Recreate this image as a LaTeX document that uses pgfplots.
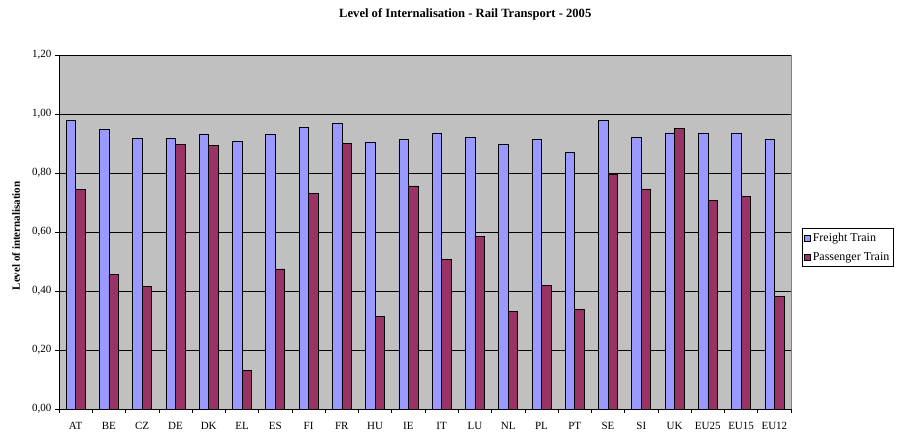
\documentclass[border=0pt]{standalone}
\usepackage{pgfplots}
\pgfplotsset{compat=1.18}
\usepackage{fontspec}
\setmainfont{Liberation Serif}
\definecolor{freight}{HTML}{9999FF}
\definecolor{passenger}{HTML}{993366}
\definecolor{plotbg}{HTML}{C0C0C0}
\pgfplotsset{sqlegend/.style={legend image code/.code={\draw[##1] (0pt,-3pt) rectangle (6pt,3pt);}}}
\begin{document}
\begin{tikzpicture}
\begin{axis}[
  name=ax,
  scale only axis, width=732pt, height=354pt,
  ybar=0pt, bar width=9.5pt,
  xmin=-0.5, xmax=21.5, ymin=0, ymax=1.2,
  xtick={0,...,21},
  xticklabels={AT,BE,CZ,DE,DK,EL,ES,FI,FR,HU,IE,IT,LU,NL,PL,PT,SE,SI,UK,EU25,EU15,EU12},
  minor xtick={-0.5,0.5,...,21.5},
  major x tick style={draw=none},
  minor x tick style={black, line width=0.6pt},
  ytick={0,0.2,...,1.21},
  major y tick style={black, line width=0.6pt},
  tick align=outside,
  major tick length=4pt, minor tick length=4pt,
  axis x line*=bottom, axis y line*=left,
  axis line style={black, line width=0.8pt, -},
  axis background/.style={fill=plotbg, draw=gray, line width=0.6pt},
  ymajorgrids, major grid style={black, line width=0.5pt},
  yticklabel style={/pgf/number format/.cd, fixed, fixed zerofill, precision=2, use comma, assume math mode=true},
  xticklabel style={yshift=-6pt},
  tick label style={font=\fontsize{11}{13}\selectfont},
  every axis y label/.style={at={(axis description cs:-0.0587,0.489)}, rotate=90, anchor=center},
  ylabel={Level of internalisation},
  ylabel style={font=\bfseries\fontsize{11}{13}\selectfont},
  title={Level of Internalisation - Rail Transport - 2005},
  title style={at={(axis description cs:0.555,1.099)}, anchor=center, font=\bfseries\fontsize{12.6}{14}\selectfont},
  legend cell align=left,
  legend style={at={(axis description cs:1.015,0.511)}, anchor=north west, draw=black, fill=white,
    font=\fontsize{12}{14}\selectfont, row sep=5pt, inner xsep=2pt, inner ysep=3pt,
    /tikz/every even column/.append style={column sep=2pt}},
]
\addplot+[fill=freight, draw=black, line width=0.6pt, sqlegend] coordinates {
(0,0.979) (1,0.949) (2,0.918) (3,0.918) (4,0.932) (5,0.907) (6,0.932) (7,0.954) (8,0.968) (9,0.904) (10,0.914)
(11,0.936) (12,0.921) (13,0.896) (14,0.914) (15,0.870) (16,0.979) (17,0.921) (18,0.936) (19,0.936) (20,0.936) (21,0.914)};
\addplot+[fill=passenger, draw=black, line width=0.6pt, sqlegend] coordinates {
(0,0.745) (1,0.456) (2,0.416) (3,0.896) (4,0.893) (5,0.131) (6,0.475) (7,0.731) (8,0.899) (9,0.315) (10,0.756)
(11,0.506) (12,0.585) (13,0.330) (14,0.420) (15,0.338) (16,0.797) (17,0.746) (18,0.950) (19,0.708) (20,0.721) (21,0.383)};
\legend{Freight Train, Passenger Train}
\end{axis}
\pgfresetboundingbox
\path[use as bounding box] ([xshift=-59pt,yshift=-26pt]ax.south west) rectangle ([xshift=840pt,yshift=409pt]ax.south west);
\end{tikzpicture}
\end{document}
